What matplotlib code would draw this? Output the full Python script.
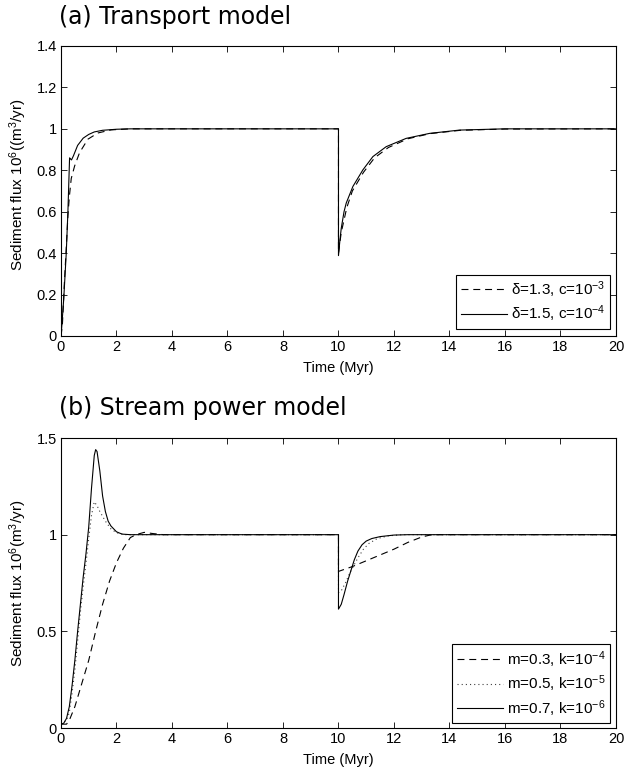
import matplotlib
matplotlib.use('Agg')
import matplotlib.pyplot as plt

plt.rcParams['font.family'] = ['Liberation Sans', 'DejaVu Sans']
plt.rcParams['mathtext.fontset'] = 'custom'
plt.rcParams['mathtext.rm'] = 'Liberation Sans'
plt.rcParams['mathtext.it'] = 'Liberation Sans:italic'
plt.rcParams['mathtext.bf'] = 'Liberation Sans:bold'
plt.rcParams['lines.scale_dashes'] = False

# ---- (a) Transport model: time (Myr) and flux (10^6 m^3/yr)
a_t_dash = [0, 0.05, 0.12, 0.2, 0.25, 0.3, 0.37, 0.49, 0.67, 0.97, 1.33, 1.81, 2.5, 10.0,
            10.0, 10.1, 10.3, 10.5, 10.9, 11.3, 11.8, 12.5, 13.3, 14.4, 16.0, 20.0]
a_v_dash = [0, 0.05, 0.25, 0.45, 0.58, 0.67, 0.76, 0.82, 0.885, 0.95, 0.98, 0.995, 1.0, 1.0,
            0.40, 0.50, 0.62, 0.70, 0.79, 0.86, 0.91, 0.952, 0.977, 0.993, 0.999, 1.0]
a_t_solid = [0, 0.03, 0.1, 0.19, 0.25, 0.31, 0.34, 0.38, 0.45, 0.6, 0.8, 1.0, 1.2, 1.5, 2.0, 2.5, 10.0,
             10.0, 10.05, 10.1, 10.2, 10.28, 10.52, 10.88, 11.24, 11.72, 12.44, 13.28, 14.36, 16.0, 20.0]
a_v_solid = [0, 0.05, 0.18, 0.4, 0.6, 0.86, 0.855, 0.85, 0.87, 0.92, 0.955, 0.973, 0.985, 0.993, 0.998, 1.0, 1.0,
             0.388, 0.46, 0.52, 0.6, 0.642, 0.722, 0.802, 0.866, 0.914, 0.954, 0.978, 0.994, 1.0, 1.0]
a_labels = ['δ=1.3, c=10$^{-3}$', 'δ=1.5, c=10$^{-4}$']
a_yticks = [0, 0.2, 0.4, 0.6, 0.8, 1.0, 1.2, 1.4]
a_yticklabels = ['0', '0.2', '0.4', '0.6', '0.8', '1', '1.2', '1.4']

# ---- (b) Stream power model
b_t_dash = [0, 0.2, 0.3, 0.5, 0.75, 1.0, 1.25, 1.5, 1.75, 2.0, 2.25, 2.5, 2.7, 3.0, 3.3, 3.7, 10.0,
            10.0, 10.5, 11.0, 11.5, 12.0, 12.5, 13.0, 13.3, 13.6, 20.0]
b_v_dash = [0.02, 0.02, 0.04, 0.11, 0.23, 0.35, 0.5, 0.64, 0.76, 0.855, 0.93, 0.985, 1.0, 1.012, 1.006, 1.0, 1.0,
            0.81, 0.835, 0.865, 0.895, 0.925, 0.96, 0.988, 0.998, 1.0, 1.0]
b_t_dot = [0, 0.2, 0.3, 0.4, 0.5, 0.6, 0.7, 0.8, 0.9, 1.0, 1.1, 1.2, 1.3, 1.4, 1.6, 1.8, 2.0, 2.3, 10.0,
           10.0, 10.1, 10.25, 10.4, 10.55, 10.7, 10.9, 11.1, 11.4, 11.8, 12.3, 20.0]
b_v_dot = [0.02, 0.04, 0.08, 0.18, 0.3, 0.45, 0.6, 0.73, 0.85, 0.98, 1.1, 1.17, 1.15, 1.12, 1.07, 1.03, 1.01, 1.0, 1.0,
           0.70, 0.71, 0.75, 0.8, 0.84, 0.88, 0.925, 0.955, 0.98, 0.994, 1.0, 1.0]
b_t_solid = [0, 0.1, 0.2, 0.3, 0.4, 0.5, 0.6, 0.7, 0.8, 0.9, 1.0, 1.1, 1.2, 1.25, 1.3, 1.4, 1.5, 1.6, 1.7, 1.8,
             2.0, 2.2, 2.5, 10.0,
             10.0, 10.1, 10.2, 10.33, 10.45, 10.57, 10.7, 10.85, 11.0, 11.2, 11.5, 12.0, 12.5, 20.0]
b_v_solid = [0.02, 0.025, 0.05, 0.11, 0.22, 0.35, 0.5, 0.64, 0.78, 0.9, 1.04, 1.24, 1.41, 1.44, 1.43, 1.33, 1.2,
             1.12, 1.07, 1.045, 1.015, 1.003, 1.0, 1.0,
             0.615, 0.64, 0.69, 0.76, 0.815, 0.87, 0.915, 0.948, 0.967, 0.98, 0.99, 0.998, 1.0, 1.0]
b_labels = ['m=0.3, k=10$^{-4}$', 'm=0.5, k=10$^{-5}$', 'm=0.7, k=10$^{-6}$']
b_yticks = [0, 0.5, 1.0, 1.5]
b_yticklabels = ['0', '0.5', '1', '1.5']

xticks = [0, 2, 4, 6, 8, 10, 12, 14, 16, 18, 20]
xticklabels = ['0', '2', '4', '6', '8', '10', '12', '14', '16', '18', '20']

DASH = (0, (5, 3.5))
DOT = (0, (0.8, 2.2))
LW = 0.8

fig = plt.figure(figsize=(6.26, 7.74), dpi=100)
ax1 = fig.add_axes([0.0974, 0.5659, 0.8866, 0.3747])
ax2 = fig.add_axes([0.0974, 0.0594, 0.8866, 0.3747])

ax1.plot(a_t_dash, a_v_dash, color='black', lw=LW, linestyle=DASH, label=a_labels[0])
ax1.plot(a_t_solid, a_v_solid, color='black', lw=LW, linestyle='-', label=a_labels[1])
ax1.set_ylim(0, 1.4)
ax1.set_yticks(a_yticks)
ax1.set_yticklabels(a_yticklabels)

ax2.plot(b_t_dash, b_v_dash, color='black', lw=LW, linestyle=DASH, label=b_labels[0])
ax2.plot(b_t_dot, b_v_dot, color='0.25', lw=LW, linestyle=DOT, label=b_labels[1])
ax2.plot(b_t_solid, b_v_solid, color='black', lw=LW, linestyle='-', label=b_labels[2])
ax2.set_ylim(0, 1.5)
ax2.set_yticks(b_yticks)
ax2.set_yticklabels(b_yticklabels)

for ax, ylab, ly in [(ax1, 'Sediment flux 10$^6$((m$^3$/yr)', 0.52),
                     (ax2, 'Sediment flux 10$^6$(m$^3$/yr)', 0.5)]:
    ax.set_xlim(0, 20)
    ax.set_xticks(xticks)
    ax.set_xticklabels(xticklabels)
    ax.tick_params(direction='in', top=True, right=True, length=4, width=0.6,
                   labelsize=10.5, pad=3)
    for s in ax.spines.values():
        s.set_linewidth(0.8)
    ax.set_xlabel('Time (Myr)', fontsize=10.5)
    ax.xaxis.set_label_coords(0.499, -0.085)
    ax.xaxis.label.set_va('top')
    ax.set_ylabel(ylab, fontsize=11)
    ax.yaxis.set_label_coords(-0.058, ly)

for ax, anchor in [(ax1, (0.99, 0.025)), (ax2, (0.99, 0.017))]:
    leg = ax.legend(loc='lower right', bbox_to_anchor=anchor, borderaxespad=0,
                    fontsize=11, fancybox=False, framealpha=1, edgecolor='black',
                    handlelength=3.0, handletextpad=0.3, labelspacing=0.25,
                    borderpad=0.3)
    leg.get_frame().set_linewidth(0.8)

fig.text(0.094, 0.969, '(a) Transport model', family='DejaVu Sans', fontsize=17,
         va='baseline', ha='left')
fig.text(0.094, 0.4638, '(b) Stream power model', family='DejaVu Sans', fontsize=17,
         va='baseline', ha='left')

fig.savefig('out.png', dpi=100)
